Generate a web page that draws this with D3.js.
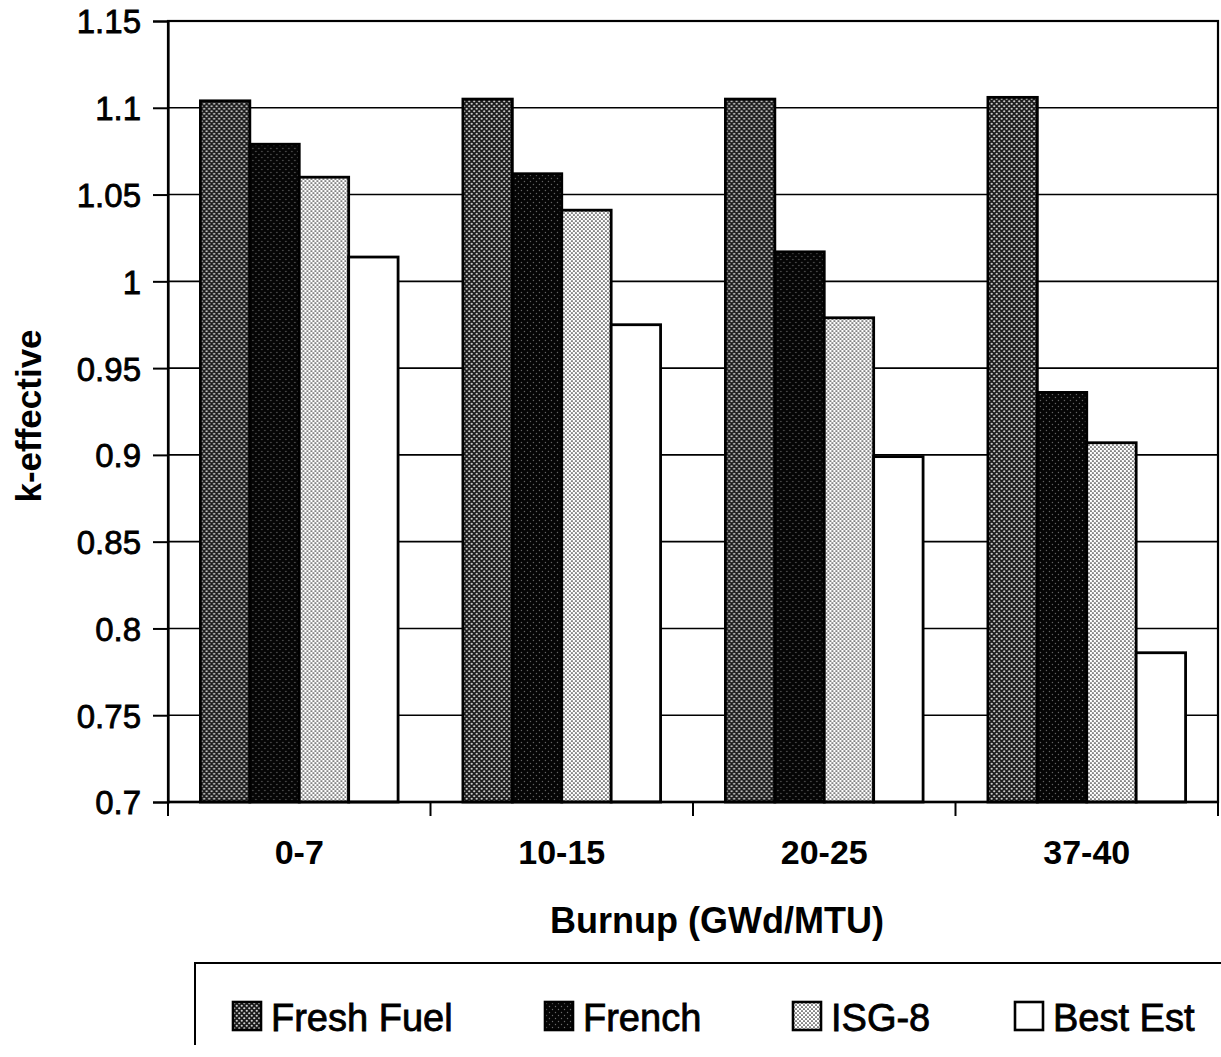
<!DOCTYPE html>
<html>
<head>
<meta charset="utf-8">
<script src="https://cdn.jsdelivr.net/npm/d3@7"></script>
<style>
  html, body { margin: 0; padding: 0; background: #fff; }
  svg { display: block; }
  text { font-family: "Liberation Sans", Arial, sans-serif; fill: #000; }
</style>
</head>
<body>
<svg id="chart" width="1221" height="1057"></svg>
<script>
// Burnup ranges (GWd/MTU)
const categories = ["0-7", "10-15", "20-25", "37-40"];
// Calculation cases
const seriesNames = ["Fresh Fuel", "French", "ISG-8", "Best Est"];
// k-effective per case, one value per burnup range
const freshFuel = [1.104, 1.105, 1.105, 1.106];
const french    = [1.079, 1.062, 1.017, 0.936];
const isg8      = [1.060, 1.041, 0.979, 0.907];
const bestEst   = [1.014, 0.975, 0.899, 0.786];
const yTicks = [0.7, 0.75, 0.8, 0.85, 0.9, 0.95, 1, 1.05, 1.1, 1.15];

const seriesValues = [freshFuel, french, isg8, bestEst];

const svg = d3.select("#chart");
const plotLeft = 168, plotRight = 1218, plotTop = 21, plotBottom = 802;

// Halftone-style fills for the four cases
const defs = svg.append("defs");
function dotPattern(id, size, bg, dot, r, pts) {
  const p = defs.append("pattern").attr("id", id)
    .attr("patternUnits", "userSpaceOnUse").attr("width", size).attr("height", size);
  p.append("rect").attr("width", size).attr("height", size).attr("fill", bg);
  pts.forEach(([x, y]) => p.append("circle").attr("cx", x).attr("cy", y).attr("r", r).attr("fill", dot));
}
dotPattern("pFresh", 5, "#1a1a1a", "#d0d0d0", 1.1, [[1.25, 1.25], [3.75, 3.75]]);
dotPattern("pFrench", 6, "#050505", "#6a6a6a", 0.7, [[1.5, 1.5], [4.5, 4.5]]);
dotPattern("pIsg", 4, "#ffffff", "#222", 0.85, [[1, 1], [3, 3]]);
const fills = ["url(#pFresh)", "url(#pFrench)", "url(#pIsg)", "#ffffff"];

const y = d3.scaleLinear().domain([0.7, 1.15]).range([plotBottom, plotTop]);
const x0 = d3.scaleBand().domain(categories).range([plotLeft, plotRight])
  .paddingInner(0.247).paddingOuter(0.1235);
const x1 = d3.scaleBand().domain(seriesNames).range([0, x0.bandwidth()]);

// Horizontal gridlines
svg.append("g").selectAll("line").data(yTicks.slice(1)).join("line")
  .attr("x1", plotLeft).attr("x2", plotRight)
  .attr("y1", d => y(d)).attr("y2", d => y(d))
  .attr("stroke", "#000").attr("stroke-width", 1.6);

// Bars
const groups = svg.append("g").selectAll("g").data(categories).join("g")
  .attr("transform", c => `translate(${x0(c)},0)`);
groups.selectAll("rect")
  .data((c, ci) => seriesNames.map((s, si) => ({ s, si, v: seriesValues[si][ci] })))
  .join("rect")
  .attr("x", d => x1(d.s))
  .attr("width", x1.bandwidth())
  .attr("y", d => y(d.v))
  .attr("height", d => plotBottom - y(d.v))
  .attr("fill", d => fills[d.si])
  .attr("stroke", "#000").attr("stroke-width", 2.8);

// Plot frame
svg.append("rect").attr("x", plotLeft).attr("y", plotTop)
  .attr("width", plotRight - plotLeft).attr("height", plotBottom - plotTop)
  .attr("fill", "none").attr("stroke", "#000").attr("stroke-width", 2.2);

// Y axis
const yAxis = d3.axisLeft(y).tickValues(yTicks).tickFormat(d3.format("")).tickSize(15).tickPadding(12);
const gy = svg.append("g").attr("transform", `translate(${plotLeft},0)`).call(yAxis);
gy.select(".domain").attr("stroke", "#000").attr("stroke-width", 2.2);
gy.selectAll(".tick line").attr("stroke", "#000").attr("stroke-width", 2);
gy.selectAll(".tick text").style("font-size", "33px").attr("dy", "0.36em")
  .style("font-family", "'Liberation Sans', Arial, sans-serif")
  .attr("stroke", "#000").attr("stroke-width", 0.8);

// X axis: ticks at category boundaries
const boundaries = d3.range(categories.length + 1).map(i => plotLeft + i * (plotRight - plotLeft) / categories.length);
svg.append("g").selectAll("line").data(boundaries).join("line")
  .attr("x1", d => d).attr("x2", d => d).attr("y1", plotBottom).attr("y2", plotBottom + 14)
  .attr("stroke", "#000").attr("stroke-width", 2);
svg.append("line").attr("x1", plotLeft).attr("x2", plotRight).attr("y1", plotBottom).attr("y2", plotBottom)
  .attr("stroke", "#000").attr("stroke-width", 2.4);
svg.append("g").selectAll("text").data(categories).join("text")
  .attr("x", c => x0(c) + x0.bandwidth() / 2).attr("y", 864)
  .attr("text-anchor", "middle").style("font-size", "34px").style("font-weight", "bold")
  .text(c => c);

// Axis titles
svg.append("text").attr("x", 717).attr("y", 933).attr("text-anchor", "middle")
  .style("font-size", "36px").style("font-weight", "bold").text("Burnup (GWd/MTU)");
svg.append("text").attr("transform", "translate(41,416) rotate(-90)").attr("text-anchor", "middle")
  .style("font-size", "35px").style("font-weight", "bold").text("k-effective");

// Legend
svg.append("path").attr("d", `M1221,963 H195 V1045`).attr("fill", "none")
  .attr("stroke", "#000").attr("stroke-width", 2);
const legendX = [233, 545, 793, 1015];
const lg = svg.append("g").selectAll("g").data(seriesNames).join("g")
  .attr("transform", (d, i) => `translate(${legendX[i]},1002)`);
lg.append("rect").attr("width", 28).attr("height", 28)
  .attr("fill", (d, i) => fills[i]).attr("stroke", "#000").attr("stroke-width", 2.6);
lg.append("text").attr("x", 38).attr("y", 29).style("font-size", "38px")
  .attr("stroke", "#000").attr("stroke-width", 0.8).text(d => d);
</script>
</body>
</html>
